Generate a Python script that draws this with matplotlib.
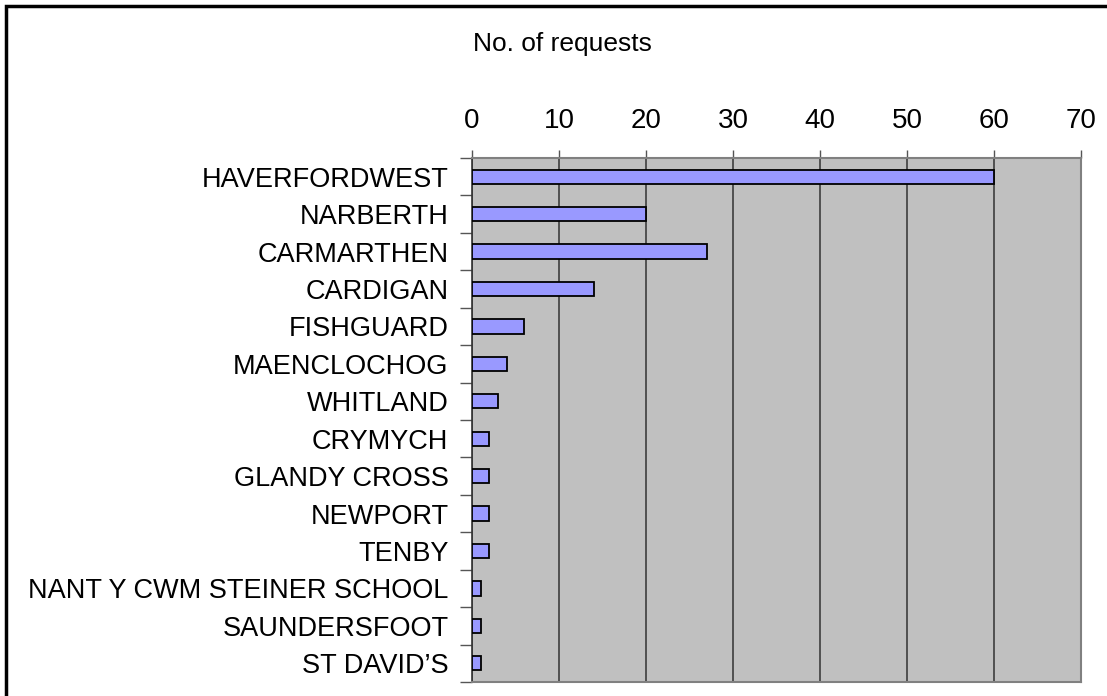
import matplotlib
matplotlib.use('Agg')
import matplotlib.pyplot as plt
import matplotlib.ticker as ticker
from matplotlib.patches import Rectangle
import numpy as np

plt.rcParams['font.family'] = ['Liberation Sans', 'DejaVu Sans']

# Data
locations = ['HAVERFORDWEST', 'NARBERTH', 'CARMARTHEN', 'CARDIGAN', 'FISHGUARD',
             'MAENCLOCHOG', 'WHITLAND', 'CRYMYCH', 'GLANDY CROSS', 'NEWPORT',
             'TENBY', 'NANT Y CWM STEINER SCHOOL', 'SAUNDERSFOOT', 'ST DAVID\u2019S']
requests = [60, 20, 27, 14, 6, 4, 3, 2, 2, 2, 2, 1, 1, 1]
x_ticks = [0, 10, 20, 30, 40, 50, 60, 70]

W, H = 1107, 696
fig = plt.figure(figsize=(W / 100, H / 100), dpi=100)
fig.patch.set_facecolor('white')

# axes placement in pixels
left, right, top, bottom = 472, 1081, 158, 682
ax = fig.add_axes([left / W, 1 - bottom / H, (right - left) / W, (bottom - top) / H])
ax.set_facecolor('#C0C0C0')

y = np.arange(len(locations))
ax.barh(y, requests, height=0.38, color='#9999FF', edgecolor='black', linewidth=1.3, zorder=3)

ax.set_xlim(0, 70)
ax.set_ylim(len(locations) - 0.5, -0.5)
ax.set_xticks(x_ticks)
ax.xaxis.tick_top()
ax.tick_params(axis='x', direction='out', length=6, width=1, color='#555555',
               labelsize=20, pad=11, labelcolor='black')
ax.grid(axis='x', color='#333333', linewidth=1.1, zorder=1)
ax.set_axisbelow(True)

ax.set_yticks(y)
ax.set_yticklabels(locations, fontsize=19.5)
ax.yaxis.set_minor_locator(ticker.FixedLocator(np.arange(len(locations) + 1) - 0.5))
ax.tick_params(axis='y', which='major', length=0, pad=17)
ax.tick_params(axis='y', which='minor', length=9, width=1, color='#555555')

for side in ['top', 'right', 'bottom']:
    ax.spines[side].set_color('#808080')
    ax.spines[side].set_linewidth(1.5)
ax.spines['left'].set_color('#333333')
ax.spines['left'].set_linewidth(1.2)

fig.text(562 / W, 1 - 44 / H, 'No. of requests', ha='center', va='center', fontsize=19)

# outer chart border
fig.patches.append(Rectangle((6 / W, -0.05), 1.1, 1 - 6 / H + 0.05, transform=fig.transFigure,
                             fill=False, edgecolor='black', linewidth=2.5))

fig.savefig('out.png', dpi=100)
